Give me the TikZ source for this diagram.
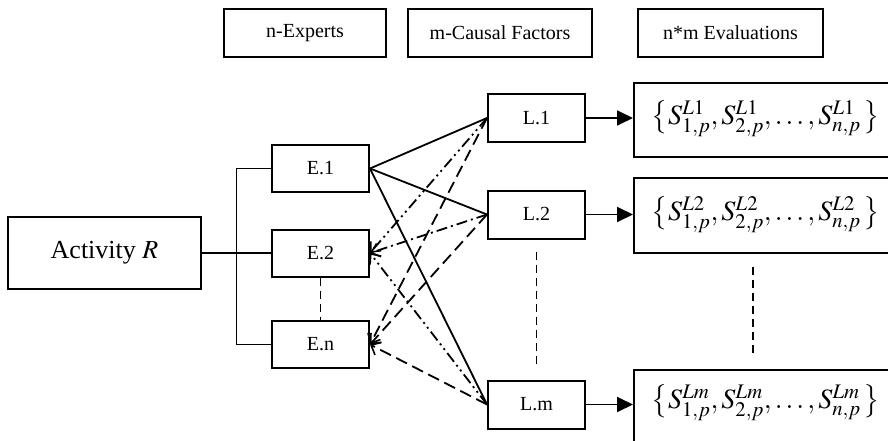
\documentclass[tikz,border=0pt]{standalone}
\usepackage{mathptmx}
\usepackage{fontspec}
\setmainfont{Liberation Serif}
\usetikzlibrary{arrows.meta,positioning,calc}

\tikzset{
  box/.style={draw,line width=2pt,inner sep=0pt,minimum width=97pt,minimum height=47pt,
    font=\fontsize{20}{23}\selectfont},
  headbox/.style={draw,line width=2pt,inner sep=0pt,minimum height=48pt,
    font=\fontsize{20}{23}\selectfont},
  setbox/.style={draw,line width=2pt,inner sep=0pt,minimum width=266pt,anchor=north west},
  settext/.style={inner sep=0pt,font=\fontsize{28}{32}\selectfont},
  con/.style={line width=1.8pt},
  tip/.style={-{Straight Barb[length=8pt,width=14pt,line width=1.6pt]}},
  dashdot/.style={dash pattern=on 11pt off 4pt on 2pt off 4pt},
  dashdotdot/.style={dash pattern=on 11pt off 4pt on 2pt off 4pt on 2pt off 4pt},
  longdash/.style={dash pattern=on 12pt off 6pt},
  vdash/.style={line width=1.8pt,dash pattern=on 8pt off 5pt},
  toset/.style={line width=1.8pt,-{Triangle[length=16pt,width=15pt]}}
}

\begin{document}
\begin{tikzpicture}[x=1pt,y=-1pt]
  \useasboundingbox (0,0) rectangle (888,441);
  % ---- headings ----
  \node[headbox,minimum width=162pt] (hExp) at (305,33) {n-Experts};
  \node[headbox,minimum width=184pt] (hFac) at (500,33) {m-Causal Factors};
  \node[headbox,minimum width=185pt] (hEva) at (730.5,33) {n*m Evaluations};
  % ---- activity ----
  \node[box,minimum width=193pt,minimum height=72pt,font=\fontsize{26}{30}\selectfont]
      (Act) at (104.5,253) {Activity $R$};
  % ---- experts ----
  \node[box] (E1) at (320.5,168.5) {E.1};
  \node[box] (E2) at (320.5,253) {E.2};
  \node[box] (En) at (320.5,344.5) {E.n};
  % ---- causal factors ----
  \node[box,minimum height=48pt] (L1) at (536.5,118) {L.1};
  \node[box,minimum height=48pt] (L2) at (536.5,214.5) {L.2};
  \node[box,minimum height=48pt] (Lm) at (536.5,404.5) {L.m};
  % ---- evaluation sets ----
  \node[setbox,minimum height=74pt] (Sb1) at (633,82) {};
  \node[setbox,minimum height=75pt] (Sb2) at (633,177) {};
  \node[setbox,minimum height=84pt] (Sb3) at (633,369) {};
  \node[settext] (S1) at (766,118.5)
      {$\bigl\{S^{L1}_{1,p},S^{L1}_{2,p},\ldots,S^{L1}_{n,p}\,\bigr\}$};
  \node[settext] (S2) at (766,214.5)
      {$\bigl\{S^{L2}_{1,p},S^{L2}_{2,p},\ldots,S^{L2}_{n,p}\,\bigr\}$};
  \node[settext] (S3) at (766,403)
      {$\bigl\{S^{Lm}_{1,p},S^{Lm}_{2,p},\ldots,S^{Lm}_{n,p}\,\bigr\}$};
  % ---- activity to experts ----
  \draw[con] (Act.east) -- (E2.west);
  \draw[con] (E1.west) -| ($(Act.east)!0.5!(E2.west)$) |- (En.west);
  \draw[vdash] (E2.south) -- (En.north);
  % ---- expert links ----
  \draw[con] (E1.east) -- (L1.west);
  \draw[con] (E1.east) -- (L2.west);
  \draw[con] (E1.east) -- (Lm.west);
  \draw[con,dashdotdot,tip] (L1.west) -- (E2.east);
  \draw[con,dashdot,tip] (L2.west) -- (E2.east);
  \draw[con,dashdotdot,tip] (Lm.west) -- (E2.east);
  \draw[con,longdash,tip] (L1.west) -- (En.east);
  \draw[con,longdash,tip] (L2.west) -- (En.east);
  \draw[con,longdash,tip] (Lm.west) -- (En.east);
  % ---- factors to evaluations ----
  \draw[vdash,shorten <=12pt,shorten >=13pt] (L2.south) -- (Lm.north);
  \draw[vdash] ($(Sb2.south west)+(120,13)$) -- ($(Sb3.north west)+(120,-14)$);
  \draw[toset] (L1.east) -- (L1.east -| Sb1.west);
  \draw[toset] (L2.east) -- (L2.east -| Sb2.west);
  \draw[toset] (Lm.east) -- (Lm.east -| Sb3.west);
\end{tikzpicture}
\end{document}
